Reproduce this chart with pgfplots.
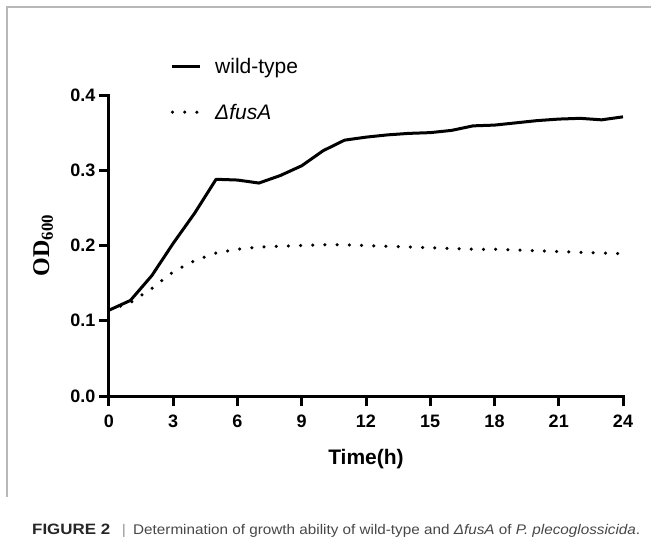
\documentclass[border=0pt]{standalone}
\usepackage{pgfplots}
\pgfplotsset{compat=1.18}
\usepackage{fontspec}
\usepackage{graphicx}
\setmainfont{Liberation Sans}
\newfontfamily\timesfont{Liberation Serif}

\pgfplotstableread{
t   od
0   0.114
1   0.127
2   0.160
3   0.203
4   0.243
5   0.288
6   0.287
7   0.283
8   0.293
9   0.306
10  0.326
11  0.340
12  0.344
13  0.347
14  0.349
15  0.350
16  0.353
17  0.359
18  0.360
19  0.363
20  0.366
21  0.368
22  0.369
23  0.367
24  0.371
}\wildtype

\pgfplotstableread{
t   od
0   0.114
1   0.124
2   0.143
3   0.165
4   0.180
5   0.190
6   0.195
7   0.198
8   0.199
9   0.200
10  0.201
11  0.201
12  0.200
13  0.199
14  0.198
15  0.197
16  0.196
17  0.195
18  0.195
19  0.194
20  0.193
21  0.192
22  0.191
23  0.190
24  0.189
}\fusA

\begin{document}
\begin{tikzpicture}[x=1pt,y=1pt]
\path[use as bounding box] (0,0) rectangle (651,542);
% frame of the figure panel
\draw[black!28, line width=1.3pt] (7,45) -- (7,535) -- (651,535);

\begin{axis}[
  at={(109pt,146pt)}, anchor=south west,
  scale only axis, width=514pt, height=301pt,
  xmin=0, xmax=24, ymin=0, ymax=0.4,
  axis x line*=bottom, axis y line*=left,
  axis line style={line width=3pt, line cap=rect},
  xtick={0,3,...,24},
  ytick={0,0.1,0.2,0.3,0.4},
  yticklabels={0.0,0.1,0.2,0.3,0.4},
  minor tick num=0,
  tick align=outside, major tick length=10pt,
  tick style={line width=3pt, black},
  /pgf/number format/assume math mode=true,
  ticklabel style={font=\fontsize{18}{18}\selectfont\bfseries},
  xticklabel style={text height=13pt, yshift=-5pt},
  xlabel={Time(h)},
  xlabel style={font=\fontsize{21}{24}\selectfont\bfseries,
    at={(axis description cs:0.5,0)}, anchor=center, yshift=-63pt},
  ylabel={\timesfont\bfseries OD\textsubscript{600}},
  ylabel style={font=\fontsize{24}{26}\selectfont,
    at={(axis description cs:-0.128,0.5)}, anchor=center},
  clip=false,
  legend style={at={(axis description cs:0.1197,1.13)}, anchor=north west,
    draw=none, fill=none, inner sep=0pt,
    font=\fontsize{21}{24}\selectfont, row sep=25pt, column sep=11pt,
    cells={anchor=west}},
  legend image code/.code={\draw[#1] (0pt,0pt) -- (28pt,0pt);},
  legend cell align=left,
]
\addplot[black, line width=3pt, line join=round] table[x=t, y=od] {\wildtype};
\addlegendentry{wild-type}
\addplot[black, line width=3.5pt, line cap=round, dash pattern=on 0pt off 12.2pt] table[x=t, y=od] {\fusA};
\addlegendentry{\textit{ΔfusA}}
\end{axis}

% caption
\node[anchor=base west, inner sep=0pt, text=black!85] at (32,8)
  {\resizebox{78pt}{\height}{\fontsize{15}{16}\selectfont\bfseries FIGURE 2}};
\node[anchor=base west, inner sep=0pt, text=black!45] at (122,8)
  {\fontsize{14}{16}\selectfont |};
\node[anchor=base west, inner sep=0pt, text=black!72] at (133,8)
  {\resizebox{507pt}{\height}{\fontsize{14}{16}\selectfont Determination of growth ability of wild-type and \textit{ΔfusA} of \textit{P. plecoglossicida}.}};
\end{tikzpicture}
\end{document}
